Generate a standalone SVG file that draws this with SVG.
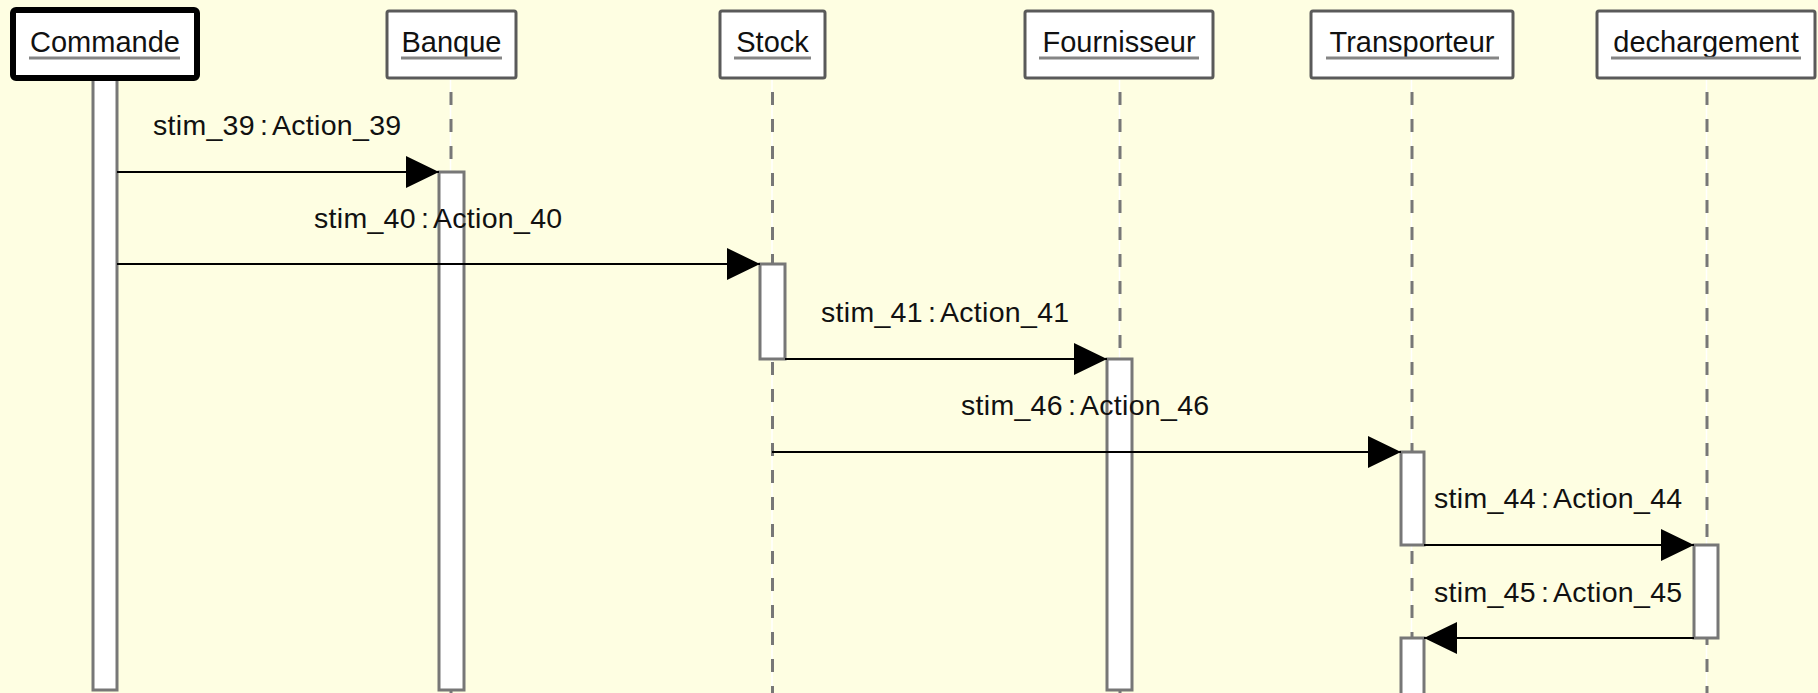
<svg xmlns="http://www.w3.org/2000/svg" width="1818" height="693" viewBox="0 0 1818 693">
<style>
.bg{fill:#fefee2}
.box{fill:#fff;stroke:#5a5a5a;stroke-width:3}
.boxmain{fill:#fff;stroke:#000;stroke-width:6}
.name{font-family:"Liberation Sans",Arial,sans-serif;font-size:29px;fill:#111;text-anchor:middle}
.ul{stroke:#858585;stroke-width:3}
.life{stroke:#777;stroke-width:3;stroke-dasharray:13 14}
.lifew{stroke:#fff;stroke-width:1.5}
.bar{fill:#fff;stroke:#777;stroke-width:3}
.msg{stroke:#000;stroke-width:2;fill:none}
.lbl{font-family:"Liberation Sans",Arial,sans-serif;font-size:28.5px;fill:#111;word-spacing:-3px;letter-spacing:0.3px}
</style>
<defs>
<marker id="ah" markerUnits="userSpaceOnUse" markerWidth="34" markerHeight="34" refX="33" refY="16" orient="auto">
<path d="M0,0 L33,16 L0,32 Z" fill="#000"/>
</marker>
</defs>
<rect class="bg" x="0" y="0" width="1818" height="693"/>

<g id="Commande">
<rect class="bar" x="93" y="79" width="24" height="611"/>
<rect class="boxmain" x="13" y="10" width="184" height="68" rx="3"/>
<text class="name" x="105" y="52">Commande</text>
<line class="ul" x1="29" y1="58" x2="180" y2="58"/>
</g>

<g id="Banque">
<line class="lifew" x1="450.5" y1="80" x2="450.5" y2="693"/>
<line class="life" x1="451" y1="92" x2="451" y2="693"/>
<rect class="box" x="387" y="11" width="129" height="67" rx="2"/>
<text class="name" x="451.5" y="52">Banque</text>
<line class="ul" x1="401" y1="58" x2="502" y2="58"/>
<rect class="bar" x="439" y="172" width="25" height="518"/>
</g>

<g id="Stock">
<line class="lifew" x1="772" y1="80" x2="772" y2="693"/>
<line class="life" x1="772.5" y1="92" x2="772.5" y2="693"/>
<rect class="box" x="720" y="11" width="105" height="67" rx="2"/>
<text class="name" x="772.5" y="52">Stock</text>
<line class="ul" x1="734" y1="58" x2="811" y2="58"/>
<rect class="bar" x="760" y="264" width="25" height="95"/>
</g>

<g id="Fournisseur">
<line class="lifew" x1="1119.5" y1="80" x2="1119.5" y2="693"/>
<line class="life" x1="1120" y1="92" x2="1120" y2="693"/>
<rect class="box" x="1025" y="11" width="188" height="67" rx="2"/>
<text class="name" x="1119" y="52">Fournisseur</text>
<line class="ul" x1="1039" y1="58" x2="1199" y2="58"/>
<rect class="bar" x="1107" y="359" width="25" height="331"/>
</g>

<g id="Transporteur">
<line class="lifew" x1="1411.5" y1="80" x2="1411.5" y2="693"/>
<line class="life" x1="1412" y1="92" x2="1412" y2="693"/>
<rect class="box" x="1311" y="11" width="202" height="67" rx="2"/>
<text class="name" x="1412" y="52">Transporteur</text>
<line class="ul" x1="1326" y1="58" x2="1499" y2="58"/>
<rect class="bar" x="1401" y="452" width="23" height="93"/>
<rect class="bar" x="1401" y="638" width="23" height="60"/>
</g>

<g id="dechargement">
<line class="lifew" x1="1706.5" y1="80" x2="1706.5" y2="693"/>
<line class="life" x1="1707" y1="92" x2="1707" y2="693"/>
<rect class="box" x="1597" y="11" width="218" height="67" rx="2"/>
<text class="name" x="1706" y="52">dechargement</text>
<line class="ul" x1="1611" y1="58" x2="1801" y2="58"/>
<rect class="bar" x="1694" y="545" width="24" height="93"/>
</g>

<g id="connectors">
<line class="msg" x1="117" y1="172" x2="439" y2="172" marker-end="url(#ah)"/>
<line class="msg" x1="117" y1="264" x2="760" y2="264" marker-end="url(#ah)"/>
<line class="msg" x1="785" y1="359" x2="1107" y2="359" marker-end="url(#ah)"/>
<line class="msg" x1="772" y1="452" x2="1401" y2="452" marker-end="url(#ah)"/>
<line class="msg" x1="1424" y1="545" x2="1694" y2="545" marker-end="url(#ah)"/>
<line class="msg" x1="1694" y1="638" x2="1424" y2="638" marker-end="url(#ah)"/>
<text class="lbl" x="153" y="135">stim_39 : Action_39</text>
<text class="lbl" x="314" y="228">stim_40 : Action_40</text>
<text class="lbl" x="821" y="322">stim_41 : Action_41</text>
<text class="lbl" x="961" y="415">stim_46 : Action_46</text>
<text class="lbl" x="1434" y="508">stim_44 : Action_44</text>
<text class="lbl" x="1434" y="602">stim_45 : Action_45</text>
</g>
</svg>
